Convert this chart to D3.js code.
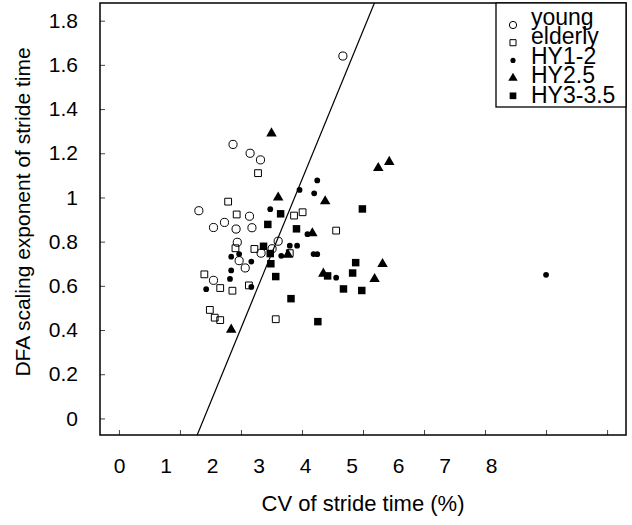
<!DOCTYPE html>
<html>
<head>
<meta charset="utf-8">
<script src="https://cdn.jsdelivr.net/npm/d3@7"></script>
<style>
  body { margin: 0; background: #fff; }
  text { font-family: "Liberation Sans", Arial, sans-serif; }
</style>
</head>
<body>
<div id="chart"></div>
<script>
// values: [CV of stride time (%), DFA exponent]
const young = [
  [3.67, 1.64], [1.87, 1.24], [2.15, 1.20], [2.32, 1.17], [1.31, 0.94],
  [2.14, 0.915], [1.73, 0.887], [1.55, 0.864], [1.92, 0.857], [2.18, 0.863],
  [1.94, 0.797], [2.61, 0.802], [2.51, 0.768], [2.33, 0.748], [1.97, 0.714],
  [2.07, 0.681], [1.55, 0.625]
];
const elderly = [
  [2.28, 1.11], [1.79, 0.981], [1.93, 0.923], [3.01, 0.933], [2.87, 0.918],
  [3.56, 0.85], [1.91, 0.77], [2.22, 0.767], [2.80, 0.748], [1.40, 0.652],
  [1.66, 0.59], [1.86, 0.578], [2.13, 0.602], [1.49, 0.491], [1.57, 0.456],
  [1.66, 0.445], [2.57, 0.449]
];
const hy12 = [
  [3.25, 1.077], [2.96, 1.034], [3.20, 1.019], [2.48, 0.947], [3.09, 0.834],
  [2.80, 0.782], [2.92, 0.782], [2.66, 0.736], [3.19, 0.744], [3.25, 0.743],
  [1.97, 0.744], [1.84, 0.732], [2.17, 0.71], [1.84, 0.67], [1.82, 0.631],
  [1.43, 0.585], [2.17, 0.595], [3.56, 0.637], [7.0, 0.65]
];
const hy25 = [
  [2.50, 1.29], [2.61, 1.0], [3.38, 0.983], [4.43, 1.161], [4.25, 1.133],
  [3.17, 0.838], [2.77, 0.741], [3.35, 0.655], [4.32, 0.699], [4.19, 0.631],
  [1.84, 0.402]
];
const hy335 = [
  [3.99, 0.948], [2.65, 0.926], [2.44, 0.878], [2.91, 0.858], [2.37, 0.779],
  [2.48, 0.746], [2.49, 0.70], [2.57, 0.642], [3.88, 0.705], [3.83, 0.658],
  [3.42, 0.645], [3.68, 0.586], [3.98, 0.579], [2.82, 0.542], [3.26, 0.438]
];
const groupNames = ["young", "elderly", "HY1-2", "HY2.5", "HY3-3.5"];
const fitLine = { slope: 0.673, intercept: -0.938 };
const xTicks = [0, 1, 2, 3, 4, 5, 6, 7, 8];
const yTicks = [0, 0.2, 0.4, 0.6, 0.8, 1, 1.2, 1.4, 1.6, 1.8];

const svg = d3.select("#chart").append("svg")
  .attr("width", 632)
  .attr("height", 525);

const x = d3.scaleLinear().domain([-0.31, 8.31]).range([100, 626]);
const y = d3.scaleLinear().domain([-0.075, 1.88]).range([435, 3]);
// the printed x labels sit closer together than the tick marks
const xLabel = d3.scaleLinear().domain([0, 8]).range([119, 491]);

const xTickG = svg.append("g")
  .attr("transform", "translate(0,435)")
  .call(d3.axisBottom(x).tickValues(xTicks).tickSizeInner(-5).tickSizeOuter(0)
    .tickFormat(""));
const xAxis = svg.append("g")
  .attr("transform", "translate(0,435)")
  .call(d3.axisBottom(xLabel).tickValues(xTicks).tickSize(0)
    .tickPadding(23).tickFormat(d3.format("d")));
const yAxis = svg.append("g")
  .attr("transform", "translate(100,0)")
  .call(d3.axisLeft(y).tickValues(yTicks).tickSizeInner(-5).tickSizeOuter(0)
    .tickPadding(22).tickFormat(d => String(+d.toFixed(1))));

[xTickG, xAxis, yAxis].forEach(a => {
  a.select(".domain").remove();
  a.attr("font-family", null).attr("font-size", 21);
  a.selectAll("line").attr("stroke", "#444");
  a.selectAll("text").attr("fill", "#000");
});
xAxis.selectAll("line").remove();

// regression line, clipped to the frame
const [v0, v1] = y.domain();
const u0 = (v0 - fitLine.intercept) / fitLine.slope;
const u1 = (v1 - fitLine.intercept) / fitLine.slope;
svg.append("line")
  .attr("x1", x(u0)).attr("y1", y(v0))
  .attr("x2", x(u1)).attr("y2", y(v1))
  .attr("stroke", "#000")
  .attr("stroke-width", 1.2);

const styles = [
  { data: young, type: d3.symbolCircle, size: 52, filled: false },
  { data: elderly, type: d3.symbolSquare, size: 46, filled: false },
  { data: hy12, type: d3.symbolCircle, size: 26, filled: true },
  { data: hy25, type: d3.symbolTriangle, size: 48, filled: true },
  { data: hy335, type: d3.symbolSquare, size: 56, filled: true }
];

styles.forEach(s => {
  svg.append("g")
    .selectAll("path")
    .data(s.data)
    .enter().append("path")
    .attr("transform", d => `translate(${x(d[0])},${y(d[1])})`)
    .attr("d", d3.symbol().type(s.type).size(s.size))
    .attr("fill", s.filled ? "#000" : "none")
    .attr("stroke", s.filled ? "none" : "#000")
    .attr("stroke-width", 1);
});

// frame
svg.append("rect")
  .attr("x", 100).attr("y", 3)
  .attr("width", 526).attr("height", 432)
  .attr("fill", "none")
  .attr("stroke", "#000")
  .attr("stroke-width", 1.5);

// legend
const legend = svg.append("g");
legend.append("rect")
  .attr("x", 496).attr("y", 3)
  .attr("width", 130).attr("height", 104)
  .attr("fill", "#fff")
  .attr("stroke", "#000")
  .attr("stroke-width", 1.3);

const rows = legend.selectAll("g.row")
  .data(groupNames)
  .enter().append("g")
  .attr("class", "row");

rows.append("path")
  .attr("transform", (d, i) => `translate(513,${25 + 17.7 * i})`)
  .attr("d", (d, i) => d3.symbol().type(styles[i].type).size(styles[i].size * 0.8)())
  .attr("fill", (d, i) => styles[i].filled ? "#000" : "none")
  .attr("stroke", (d, i) => styles[i].filled ? "none" : "#000");

rows.append("text")
  .attr("x", 531)
  .attr("y", (d, i) => 25 + 19.4 * i)
  .attr("font-size", 23)
  .text(d => d);

svg.append("text")
  .attr("x", 363).attr("y", 511)
  .attr("text-anchor", "middle")
  .attr("font-size", 22)
  .text("CV of stride time (%)");

svg.append("text")
  .attr("transform", "translate(30,212) rotate(-90)")
  .attr("text-anchor", "middle")
  .attr("font-size", 21)
  .text("DFA scaling exponent of stride time");
</script>
</body>
</html>
